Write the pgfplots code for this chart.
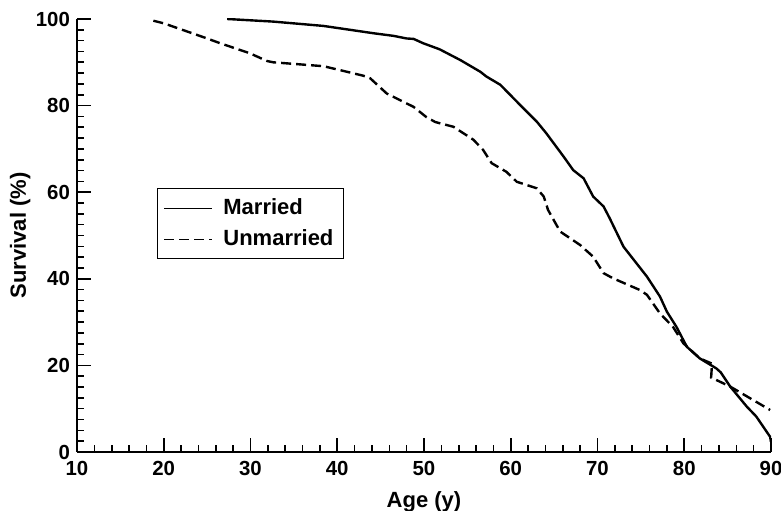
\documentclass[border=0pt]{standalone}
\usepackage{fontspec}
\setmainfont{Liberation Sans}
\usepackage{pgfplots}
\pgfplotsset{compat=1.18}
\begin{document}
\begin{tikzpicture}
\begin{axis}[
  scale only axis, width=347pt, height=216.5pt,
  xmin=10, xmax=90, ymin=0, ymax=100,
  axis lines=left, axis line style={-, line width=1pt},
  xtick={10,20,...,90}, ytick={0,20,...,100},
  minor x tick num=4, minor y tick num=7,
  tick align=inside,
  major tick length=7pt, minor tick length=3.5pt,
  every tick/.style={line width=0.8pt, black},
  tick label style={font=\fontsize{10.2}{12}\selectfont\bfseries},
  xticklabel style={yshift=-1pt},
  /pgf/number format/assume math mode=true,
  xlabel={Age (y)}, ylabel={Survival (\%)},
  label style={font=\fontsize{11}{13}\selectfont\bfseries},
  xlabel style={at={(axis description cs:0.5,-0.115)}, anchor=center},
  ylabel style={at={(axis description cs:-0.082,0.5)}, anchor=center},
  legend style={at={(axis description cs:0.115,0.609)}, anchor=north west,
    draw=black, line width=0.6pt, font=\fontsize{11}{13}\selectfont\bfseries,
    inner xsep=3pt, inner ysep=3pt, row sep=2pt},
  legend cell align=left,
  legend image code/.code={\draw[#1, line width=0.8pt] (0pt,0pt) -- (24pt,0pt); \path (27pt,0pt);},
]
\addplot[black, line width=1.2pt] coordinates {
(27.3,100)(32.6,99.4)(38.4,98.4)(44.2,96.7)(46.5,96.1)(48.0,95.5)(48.8,95.4)
(49.9,94.4)(51.8,93.0)(54.2,90.5)(56.5,87.8)(57.2,86.7)(58.8,84.8)(61.1,80.1)
(63.0,76.3)(64.1,73.6)(66.1,68.2)(67.2,65.1)(68.4,63.2)(69.5,59.0)(70.7,56.7)
(71.4,54.0)(73.0,47.4)(75.7,40.5)(77.2,35.9)(78.0,32.4)(79.1,28.9)(80.3,24.3)
(81.8,21.6)(83.7,19.3)(84.2,18.4)(85.3,15.1)(87.2,10.5)(88.3,8.2)(89.9,3.5)(90,2.3)
};
\addlegendentry{Married}
\addplot[black, line width=1.2pt, dash pattern=on 5pt off 2.5pt] coordinates {
(18.8,99.6)(20.0,99.0)(25.0,95.5)(26.5,94.4)(29.9,92.1)(31.9,90.3)(32.6,90.0)
(38.4,89.1)(40.3,88.2)(43.0,86.9)(43.8,86.3)(45.7,82.8)(48.8,79.7)(50.3,77.3)
(51.3,76.2)(53.4,75.1)(55.7,72.1)(56.8,69.8)(57.8,66.7)(59.5,64.7)(60.7,62.4)
(63.0,60.9)(63.8,59.0)(64.3,55.9)(65.7,50.9)(68.0,47.8)(69.5,45.1)(70.7,41.3)
(71.8,40.1)(74.9,37.4)(75.7,36.3)(77.2,32.0)(78.7,28.9)(79.9,25.1)(81.8,21.6)
(83.2,20.4)(83.1,17.2)(85.3,15.1)(89.9,9.7)
};
\addlegendentry{Unmarried}
\coordinate (SW) at (rel axis cs:0,0);
\coordinate (NE) at (rel axis cs:1,1);
\end{axis}
\pgfresetboundingbox
\path ([shift={(-38.5pt,-29.5pt)}]SW) rectangle ([shift={(5pt,9.5pt)}]NE);
\end{tikzpicture}
\end{document}
